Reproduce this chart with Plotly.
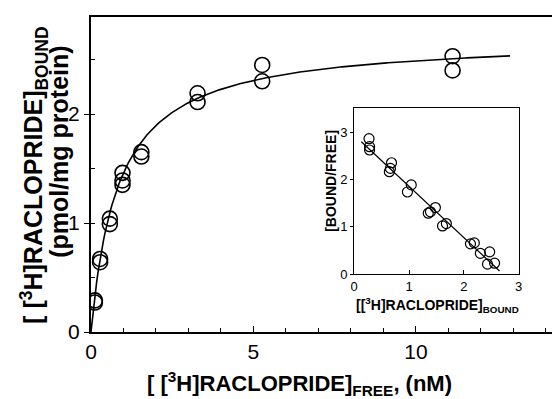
import numpy as np
import plotly.graph_objects as go

# Saturation binding: free vs bound [3H]raclopride (duplicate determinations)
free_nM = [0.12, 0.12, 0.28, 0.28, 0.58, 0.58, 0.97, 0.97, 0.97,
           1.55, 1.55, 3.28, 3.28, 5.27, 5.27, 11.13, 11.13]
bound_pmol = [0.29, 0.27, 0.67, 0.64, 1.04, 0.99, 1.46, 1.39, 1.35,
              1.65, 1.61, 2.19, 2.11, 2.45, 2.30, 2.53, 2.40]

# One-site fit parameters
BMAX = 2.70   # pmol/mg protein
KD = 0.85     # nM
FIT_MAX_FREE = 12.9

# Scatchard transform (inset)
scat_bound = [0.27, 0.28, 0.28, 0.68, 0.66, 0.64, 1.04, 0.97, 1.48, 1.39,
              1.35, 1.68, 1.61, 2.19, 2.12, 2.30, 2.47, 2.43, 2.56]
scat_ratio = [2.87, 2.70, 2.63, 2.36, 2.24, 2.17, 1.89, 1.74, 1.41, 1.32,
              1.29, 1.07, 1.02, 0.66, 0.64, 0.44, 0.47, 0.21, 0.23]
SCAT_BMAX = 2.71
SCAT_KD = 0.92
SCAT_X_RANGE = [0.13, 2.65]

FONT = "Liberation Sans, Arial, sans-serif"

fit_x = np.linspace(0, FIT_MAX_FREE, 300)
fit_y = BMAX * fit_x / (KD + fit_x)

scat_x = np.array(SCAT_X_RANGE)
scat_y = (SCAT_BMAX - scat_x) / SCAT_KD

fig = go.Figure()

fig.add_trace(go.Scatter(x=fit_x, y=fit_y, mode="lines",
                         line=dict(color="black", width=1.6),
                         hoverinfo="skip", showlegend=False))
fig.add_trace(go.Scatter(x=free_nM, y=bound_pmol, mode="markers",
                         marker=dict(symbol="circle-open", size=15,
                                     color="black", line=dict(width=1.6)),
                         showlegend=False))

fig.add_trace(go.Scatter(x=scat_x, y=scat_y, mode="lines",
                         xaxis="x2", yaxis="y2",
                         line=dict(color="black", width=1.2),
                         hoverinfo="skip", showlegend=False))
fig.add_trace(go.Scatter(x=scat_bound, y=scat_ratio, mode="markers",
                         xaxis="x2", yaxis="y2",
                         marker=dict(symbol="circle-open", size=10,
                                     color="black", line=dict(width=1.2)),
                         showlegend=False))

fig.update_layout(
    width=555, height=399,
    margin=dict(l=91, r=0, t=17, b=67),
    paper_bgcolor="white", plot_bgcolor="white",
    font=dict(family=FONT, color="black"),
    xaxis=dict(
        range=[0, 14.19], showgrid=False, zeroline=False,
        showline=True, linecolor="black", linewidth=2, mirror=True,
        tickvals=[0, 5, 10], ticks="inside", ticklen=6, tickwidth=1.2,
        tickcolor="black", tickfont=dict(size=21, family=FONT),
        minor=dict(dtick=1, ticks="inside", ticklen=4, tickwidth=1,
                   tickcolor="black", showgrid=False),
    ),
    yaxis=dict(
        range=[0, 2.89], showgrid=False, zeroline=False,
        showline=True, linecolor="black", linewidth=2,
        tickvals=[0, 1, 2], ticks="outside", ticklen=5, tickwidth=1.2,
        tickcolor="black", tickfont=dict(size=21, family=FONT),
        minor=dict(dtick=0.5, ticks="inside", ticklen=4, tickwidth=1,
                   tickcolor="black", showgrid=False),
    ),
    xaxis2=dict(
        domain=[0.571, 0.929], anchor="y2", range=[0, 3.01],
        showgrid=False, zeroline=False, showline=True, linecolor="black",
        linewidth=1.2, mirror=True, tickvals=[0, 1, 2, 3],
        ticks="inside", ticklen=4, tickcolor="black",
        tickfont=dict(size=13, family=FONT),
    ),
    yaxis2=dict(
        domain=[0.184, 0.711], anchor="x2", range=[0, 3.52],
        showgrid=False, zeroline=False, showline=True, linecolor="black",
        linewidth=1.2, mirror=True, tickvals=[0, 1, 2, 3],
        ticks="outside", ticklen=3, tickcolor="black",
        tickfont=dict(size=13, family=FONT),
    ),
    annotations=[
        dict(text="<b>[ [<sup>3</sup>H]RACLOPRIDE]<sub>FREE</sub>, (nM)</b>",
             xref="paper", yref="paper", x=0.453, y=-0.165,
             xanchor="center", yanchor="middle", showarrow=False,
             font=dict(size=22, family=FONT)),
        dict(text="<b>[ [<sup>3</sup>H]RACLOPRIDE]<sub>BOUND</sub></b>",
             xref="paper", yref="paper", x=-0.125, y=0.5,
             xanchor="center", yanchor="middle", textangle=-90,
             showarrow=False, font=dict(size=25, family=FONT)),
        dict(text="<b>(pmol/mg protein)</b>",
             xref="paper", yref="paper", x=-0.07, y=0.571,
             xanchor="center", yanchor="middle", textangle=-90,
             showarrow=False, font=dict(size=25, family=FONT)),
        dict(text="<b>[[<sup>3</sup>H]RACLOPRIDE]<sub>BOUND</sub></b>",
             xref="paper", yref="paper", x=0.752, y=0.086,
             xanchor="center", yanchor="middle", showarrow=False,
             font=dict(size=14, family=FONT)),
        dict(text="<b>[BOUND/FREE]</b>",
             xref="paper", yref="paper", x=0.52, y=0.479,
             xanchor="center", yanchor="middle", textangle=-90,
             showarrow=False, font=dict(size=14, family=FONT)),
    ],
)

fig.write_html("out.html")
